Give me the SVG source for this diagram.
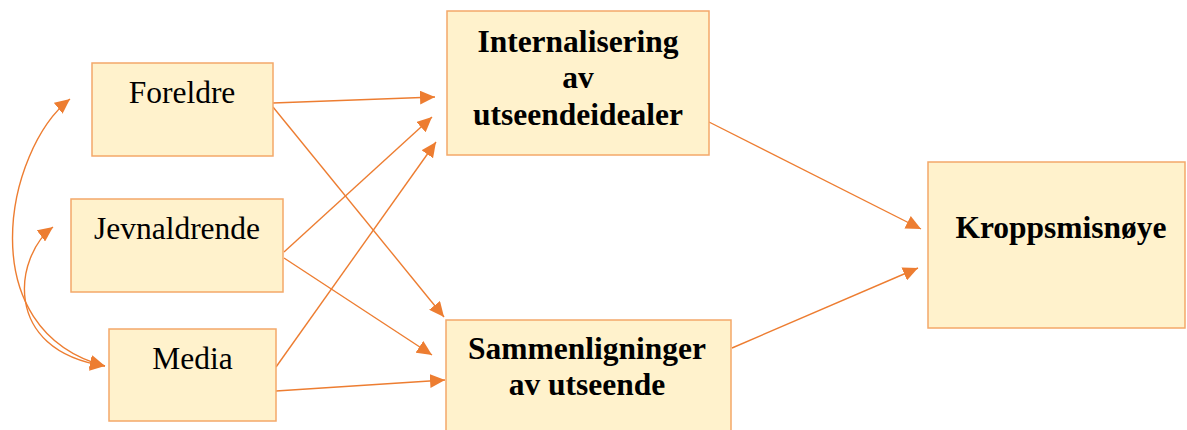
<svg xmlns="http://www.w3.org/2000/svg" width="1187" height="430" viewBox="0 0 1187 430">
  <style>
    .box { fill: #FFF2CC; stroke: #F4A869; stroke-width: 1.5; }
    .lbl { font-family: "Liberation Serif", "Times New Roman", serif; font-size: 31.5px; fill: #000; text-anchor: middle; }
    .b { font-weight: bold; }
    .edge { fill: none; stroke: #ED7D31; stroke-width: 1.4; }
  </style>
  <defs>
    <marker id="arrow" markerUnits="userSpaceOnUse" markerWidth="16" markerHeight="14" refX="15" refY="7" orient="auto-start-reverse" viewBox="0 0 16 14">
      <path d="M0,0 L15,7 L0,14 Z" fill="#ED7D31"/>
    </marker>
  </defs>

  <rect width="1187" height="430" fill="#fff"/>

  <g id="connectors">
    <!-- sources to mediators -->
    <line class="edge" x1="273" y1="103" x2="435" y2="97" marker-end="url(#arrow)"/>
    <line class="edge" x1="273" y1="107" x2="444" y2="317" marker-end="url(#arrow)"/>
    <line class="edge" x1="284" y1="252" x2="432" y2="117" marker-end="url(#arrow)"/>
    <line class="edge" x1="284" y1="258" x2="432" y2="355" marker-end="url(#arrow)"/>
    <line class="edge" x1="276" y1="367" x2="436" y2="142" marker-end="url(#arrow)"/>
    <line class="edge" x1="276" y1="391" x2="445" y2="380" marker-end="url(#arrow)"/>
    <!-- mediators to outcome -->
    <line class="edge" x1="709" y1="122" x2="921" y2="229" marker-end="url(#arrow)"/>
    <line class="edge" x1="732" y1="348" x2="918" y2="268" marker-end="url(#arrow)"/>
    <!-- correlations between sources -->
    <path class="edge" d="M70,99 C5,150 -30,330 105,366" marker-start="url(#arrow)" marker-end="url(#arrow)"/>
    <path class="edge" d="M53,227 C15,255 0,350 105,366" marker-start="url(#arrow)" marker-end="url(#arrow)"/>
  </g>

  <g id="foreldre">
    <rect class="box" x="92" y="63" width="181" height="93"/>
    <text class="lbl" x="182" y="103">Foreldre</text>
  </g>

  <g id="jevnaldrende">
    <rect class="box" x="71" y="199" width="212" height="93"/>
    <text class="lbl" x="177" y="239">Jevnaldrende</text>
  </g>

  <g id="media">
    <rect class="box" x="109" y="329" width="167" height="92"/>
    <text class="lbl" x="192.5" y="369">Media</text>
  </g>

  <g id="internalisering">
    <rect class="box" x="447" y="11" width="262" height="144"/>
    <text class="lbl b" x="578" y="52">Internalisering</text>
    <text class="lbl b" x="578" y="88">av</text>
    <text class="lbl b" x="578" y="125">utseendeidealer</text>
  </g>

  <g id="sammenligninger">
    <rect class="box" x="446" y="320" width="285" height="120"/>
    <text class="lbl b" x="587" y="359">Sammenligninger</text>
    <text class="lbl b" x="587" y="395">av utseende</text>
  </g>

  <g id="kroppsmisnoye">
    <rect class="box" x="928" y="162" width="257" height="166"/>
    <text class="lbl b" x="1061" y="238">Kroppsmisnøye</text>
  </g>
</svg>
